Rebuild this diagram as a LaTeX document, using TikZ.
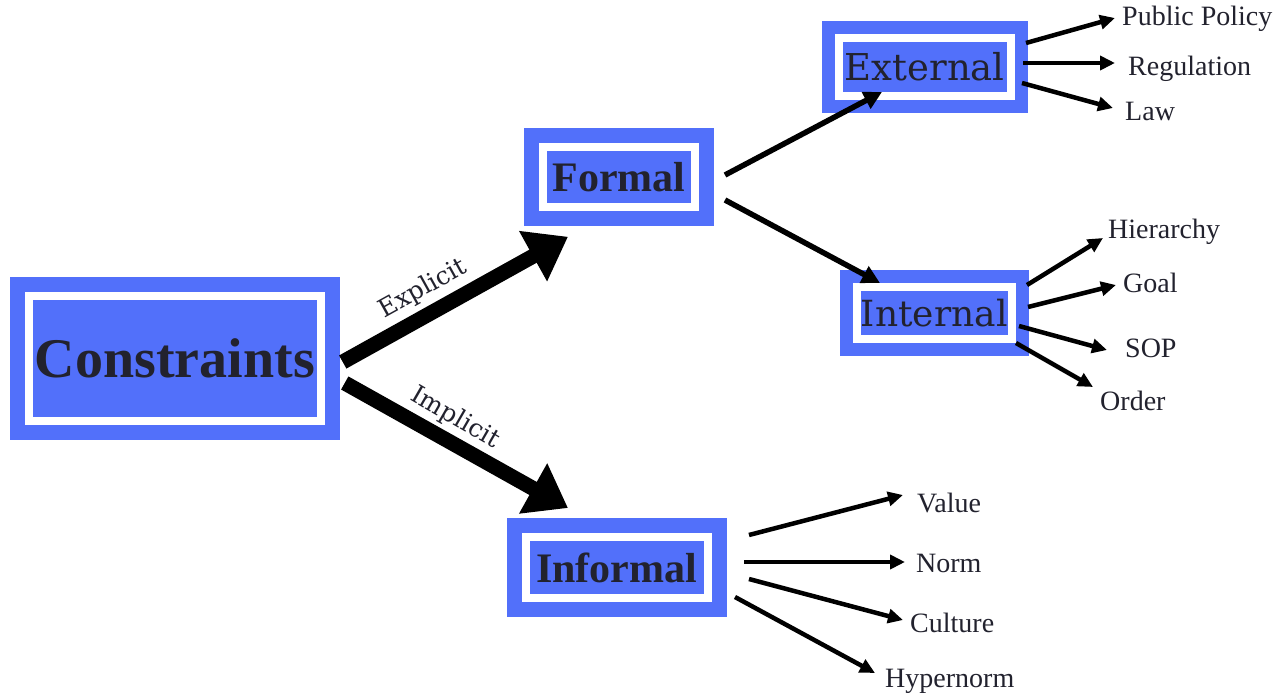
\documentclass[tikz,border=0pt]{standalone}
\usepackage{fontspec}
\setmainfont{Liberation Serif}
\newfontfamily\djs{DejaVu Serif}
\usetikzlibrary{arrows.meta}
\definecolor{boxblue}{RGB}{82,112,250}
\definecolor{txtdark}{RGB}{34,34,46}
\begin{document}
\begin{tikzpicture}[x=1pt,y=-1pt,
  box/.style={draw=white, line width=8pt, fill=boxblue, inner sep=0pt, outer sep=0pt, text=txtdark, preaction={draw=boxblue, line width=#1}},
  box/.default=38pt,
  leaf/.style={font=\fontsize{28}{30}\selectfont, inner sep=0pt, anchor=base west, text height=18pt, text depth=6pt, text=txtdark},
  edgelabel/.style={font=\djs\fontsize{25}{28}\selectfont, inner sep=0pt, text=txtdark},
  bigarrow/.style={line width=15pt, -{Triangle[length=40pt,width=55pt]}},
  midarrow/.style={line width=5.5pt, -{Triangle[length=18pt,width=18pt]}},
  leafarrow/.style={line width=4.5pt, -{Triangle[length=15pt,width=14pt]}},
  ]
\useasboundingbox[fill=white] (0,0) rectangle (1278,699);

% boxes
\node[box, minimum width=291.5pt, minimum height=125pt, font=\bfseries\fontsize{56}{60}\selectfont] (con) at (175,358.5) {Constraints};
\node[box, minimum width=152pt, minimum height=60.5pt, font=\bfseries\fontsize{42}{46}\selectfont] (formal) at (619,177) {Formal};
\node[box, minimum width=181.5pt, minimum height=61pt, font=\bfseries\fontsize{42}{46}\selectfont] (inf) at (616.75,567.5) {Informal};
\node[box=34pt, minimum width=171.5pt, minimum height=58pt, font=\djs\fontsize{37}{40}\selectfont] (ext) at (924.75,66.5) {External};
\node[box=34pt, minimum width=154.5pt, minimum height=51.5pt, font=\djs\fontsize{36}{40}\selectfont] (int) at (934.25,312.75) {Internal};

% leaf labels
\node[leaf] (pp) at (1122,25) {Public Policy};
\node[leaf] (reg) at (1128,75) {Regulation};
\node[leaf] (law) at (1125,120) {Law};
\node[leaf] (hier) at (1108,238) {Hierarchy};
\node[leaf] (goal) at (1123,292) {Goal};
\node[leaf] (sop) at (1125,357) {SOP};
\node[leaf] (order) at (1100,410) {Order};
\node[leaf] (value) at (917,512) {Value};
\node[leaf] (norm) at (916,572) {Norm};
\node[leaf] (culture) at (910,632) {Culture};
\node[leaf] (hyper) at (885,687) {Hypernorm};

% edge labels
\node[edgelabel, rotate=29] (explicit) at (423,289) {Explicit};
\node[edgelabel, rotate=-30] (implicit) at (455,418) {Implicit};

% main arrows
\draw[bigarrow] ([shift={(22,3.5)}]con.east) -- ([shift={(25,29.5)}]formal.south west);
\draw[bigarrow] ([shift={(24,24.5)}]con.east) -- ([shift={(42,-29)}]inf.north west);
\draw[midarrow] ([shift={(30,-2)}]formal.east) -- ([shift={(43,-3.5)}]ext.south west);
\draw[midarrow] ([shift={(30,23)}]formal.east) -- ([shift={(23,-4)}]int.north west);

% external leaves
\draw[leafarrow] ([shift={(15.5,-23.5)}]ext.east) -- ([shift={(-7,-1)}]pp.west);
\draw[leafarrow] ([shift={(12.5,-3.5)}]ext.east) -- ([shift={(-13,-6)}]reg.west);
\draw[leafarrow] ([shift={(11.5,16.5)}]ext.east) -- ([shift={(-12,-6)}]law.west);
% internal leaves
\draw[leafarrow] ([shift={(15.5,-27.75)}]int.east) -- ([shift={(-5,6)}]hier.west);
\draw[leafarrow] ([shift={(16.5,-5.75)}]int.east) -- ([shift={(-7,-1)}]goal.west);
\draw[leafarrow] ([shift={(7.5,13.25)}]int.east) -- ([shift={(-18,-1)}]sop.west);
\draw[leafarrow] ([shift={(4.5,30.25)}]int.east) -- ([shift={(-7,-17)}]order.west);
% informal leaves
\draw[leafarrow] ([shift={(41.5,-32.5)}]inf.east) -- ([shift={(-14,-11)}]value.west);
\draw[leafarrow] ([shift={(36.5,-5.5)}]inf.east) -- ([shift={(-11,-4)}]norm.west);
\draw[leafarrow] ([shift={(41.5,11.5)}]inf.east) -- ([shift={(-7,-6)}]culture.west);
\draw[leafarrow] ([shift={(27.5,29.5)}]inf.east) -- ([shift={(-10,-8)}]hyper.west);
\end{tikzpicture}
\end{document}
